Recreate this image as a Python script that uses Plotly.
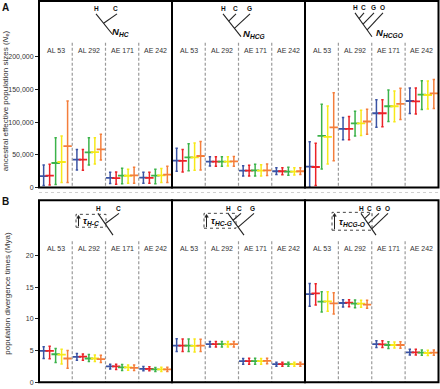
import plotly.graph_objects as go

W, H = 440, 389
groups = ["AL 53", "AL 292", "AE 171", "AE 242"]
colors = ["#3a53a4", "#ec2227", "#3bb34a", "#f7e919", "#f47e3b"]

# ---- Panel A: ancestral effective population sizes (Ne) ----
nhc_mid = [[17300, 18200, 37500, 39000, 63400], [42600, 42600, 53800, 54000, 58300],
           [14700, 14400, 18200, 18000, 18500], [15200, 14700, 18200, 18500, 19800]]
nhc_lo = [[3000, 4000, 4600, 7600, 7600], [26900, 26600, 34500, 36000, 42100],
          [6100, 5000, 5700, 6500, 6500], [6500, 6500, 5700, 7600, 7600]]
nhc_hi = [[34500, 35500, 76000, 78600, 132200], [58300, 58000, 76000, 76000, 81600],
          [23400, 23700, 29500, 28000, 31000], [23400, 23400, 28000, 28900, 32500]]

nhcg_mid = [[41000, 40600, 46200, 46200, 48200], [39500, 39500, 39500, 39500, 40000],
            [25800, 25800, 26200, 25800, 26200], [24900, 24900, 24400, 24400, 24900]]
nhcg_lo = [[24900, 23900, 25800, 26400, 26900], [33000, 32600, 32600, 33000, 32600],
           [17800, 17800, 17800, 17800, 18300], [19800, 19400, 18800, 19300, 19800]]
nhcg_hi = [[59900, 58300, 66900, 67900, 70500], [47100, 47100, 47100, 47100, 47600],
           [33400, 33900, 35500, 35000, 35900], [30400, 30400, 30900, 30400, 30400]]

nhcgo_mid = [[31900, 31400, 79000, 77500, 91800], [89700, 89700, 97900, 97900, 100900],
             [113500, 113500, 124200, 124200, 127700], [132200, 131700, 141900, 141400, 143900]]
nhcgo_lo = [[600, 3000, 28400, 36000, 41000], [73000, 73000, 78600, 79600, 81600],
            [92200, 92700, 100900, 100400, 104000], [113000, 112500, 119100, 120000, 120600]]
nhcgo_hi = [[69900, 67500, 127200, 124600, 145000], [107000, 108500, 116600, 118100, 119600],
            [134300, 134300, 149000, 147400, 151500], [152000, 152000, 163200, 162700, 165200]]

# ---- Panel B: population divergence times (Mya) ----
thc_mid = [[4.94, 4.94, 4.42, 4.36, 3.75], [4.0, 4.05, 3.75, 3.75, 3.64],
           [2.5, 2.5, 2.34, 2.34, 2.29], [2.13, 2.13, 2.03, 2.03, 2.03]]
thc_lo = [[3.75, 3.70, 3.12, 2.9, 2.23], [3.48, 3.48, 3.28, 3.28, 3.12],
          [2.08, 2.03, 1.87, 1.92, 1.87], [1.82, 1.82, 1.72, 1.72, 1.72]]
thc_hi = [[5.62, 5.67, 5.31, 5.2, 5.0], [4.53, 4.48, 4.37, 4.32, 4.26],
          [2.86, 2.86, 2.81, 2.71, 2.71], [2.5, 2.45, 2.34, 2.39, 2.39]]

thcg_mid = [[5.78, 5.78, 5.78, 5.73, 5.78], [6.03, 6.03, 6.03, 5.98, 6.03],
            [3.33, 3.33, 3.33, 3.33, 3.38], [2.86, 2.86, 2.86, 2.86, 2.86]]
thcg_lo = [[4.84, 4.84, 4.84, 4.79, 4.84], [5.56, 5.56, 5.56, 5.56, 5.56],
           [2.86, 2.86, 2.86, 2.86, 2.91], [2.55, 2.55, 2.55, 2.55, 2.55]]
thcg_hi = [[6.87, 6.82, 6.82, 6.82, 6.77], [6.45, 6.45, 6.45, 6.45, 6.45],
           [3.75, 3.80, 3.80, 3.75, 3.80], [3.17, 3.17, 3.17, 3.17, 3.17]]

thcgo_mid = [[13.9, 14.0, 12.7, 12.75, 12.44], [12.5, 12.55, 12.39, 12.39, 12.23],
             [6.03, 5.98, 5.88, 5.88, 5.88], [4.73, 4.73, 4.68, 4.62, 4.68]]
thcgo_lo = [[11.97, 12.19, 11.09, 11.19, 10.78], [11.87, 11.92, 11.76, 11.82, 11.66],
            [5.47, 5.47, 5.31, 5.42, 5.36], [4.31, 4.31, 4.27, 4.21, 4.27]]
thcgo_hi = [[15.57, 15.52, 14.27, 14.27, 14.1], [13.0, 13.0, 12.97, 12.92, 12.92],
            [6.56, 6.56, 6.4, 6.35, 6.4], [5.2, 5.2, 5.1, 5.05, 5.1]]

a_ticks = [0, 50000, 100000, 150000, 200000]
a_ticktext = ["0", "50,000", "100,000", "150,000", "200,000"]
b_ticks = [0, 5, 10, 15, 20]
b_ticktext = ["0", "5", "10", "15", "20"]

panels = [
    (nhc_mid, nhc_lo, nhc_hi), (nhcg_mid, nhcg_lo, nhcg_hi), (nhcgo_mid, nhcgo_lo, nhcgo_hi),
    (thc_mid, thc_lo, thc_hi), (thcg_mid, thcg_lo, thcg_hi), (thcgo_mid, thcgo_lo, thcgo_hi),
]

def X(px):
    return px / W

def Y(py):
    return 1 - py / H

FONT = "Arial, Liberation Sans, sans-serif"
col_px = [(39, 172), (172, 305), (305, 438.5)]
rowA = (1, 189)
rowB = (201.7, 385.3)

fig = go.Figure()
layout = dict(width=W, height=H, margin=dict(l=0, r=0, t=0, b=0),
              paper_bgcolor="white", plot_bgcolor="rgba(0,0,0,0)",
              showlegend=False, font=dict(family=FONT, color="#333"))
shapes = []
annotations = []

for k, (mid, lo, hi) in enumerate(panels):
    idx = k + 1
    sfx = "" if idx == 1 else str(idx)
    c0, c1 = col_px[k % 3]
    r0, r1 = rowA if k < 3 else rowB
    isA = k < 3
    layout["xaxis" + sfx] = dict(domain=[X(c0), X(c1)], range=[0, 4], visible=False,
                                 anchor="y" + sfx, fixedrange=True)
    ya = dict(domain=[Y(r1), Y(r0)], range=[0, 285000] if isA else [0, 28.7],
              anchor="x" + sfx, showgrid=False, zeroline=False, showline=False, fixedrange=True)
    if k % 3 == 0:
        ya.update(tickvals=a_ticks if isA else b_ticks,
                  ticktext=a_ticktext if isA else b_ticktext,
                  ticks="outside", ticklen=3, tickcolor="#222", tickwidth=1,
                  tickfont=dict(size=7, color="#333", family=FONT))
    else:
        ya.update(showticklabels=False, ticks="")
    layout["yaxis" + sfx] = ya

    for s in range(5):
        xs = [g + 0.14 + 0.18 * s for g in range(4)]
        ys = [mid[g][s] for g in range(4)]
        eplus = [hi[g][s] - mid[g][s] for g in range(4)]
        eminus = [mid[g][s] - lo[g][s] for g in range(4)]
        fig.add_trace(go.Scatter(
            x=xs, y=ys, mode="markers", xaxis="x" + sfx, yaxis="y" + sfx,
            marker=dict(symbol="line-ew", size=6, color=colors[s],
                        line=dict(width=1.8, color=colors[s])),
            error_y=dict(type="data", symmetric=False, array=eplus, arrayminus=eminus,
                         color=colors[s], thickness=1.5, width=1.2),
            hoverinfo="skip"))

    ytop = 43 if isA else 243
    for g in (1, 2, 3):
        shapes.append(dict(type="line", xref="x" + sfx, x0=g, x1=g, yref="paper",
                           y0=Y(ytop), y1=Y(r1), line=dict(color="#9a9a9a", width=1.2, dash="3px,2px")))
    ylab = 51 if isA else 250
    for g, name in enumerate(groups):
        annotations.append(dict(xref="x" + sfx, x=g + 0.5, yref="paper", y=Y(ylab),
                                text=name, showarrow=False, font=dict(size=7, color="#333"),
                                xanchor="center", yanchor="middle"))
    shapes.append(dict(type="rect", xref="paper", yref="paper", x0=X(c0), x1=X(c1),
                       y0=Y(r1), y1=Y(r0), line=dict(color="black", width=2)))

shapes.append(dict(type="line", xref="paper", yref="paper", x0=X(39), x1=X(440),
                   y0=Y(194), y1=Y(194), line=dict(color="#d0d0d0", width=1, dash="dot")))

annotations += [
    dict(xref="paper", yref="paper", x=X(5), y=Y(8), text="<b>A</b>", showarrow=False,
         font=dict(size=10, color="#111"), xanchor="center", yanchor="middle"),
    dict(xref="paper", yref="paper", x=X(5), y=Y(203), text="<b>B</b>", showarrow=False,
         font=dict(size=10, color="#111"), xanchor="center", yanchor="middle"),
    dict(xref="paper", yref="paper", x=X(6), y=Y(102),
         text="ancestral effective population sizes (<i>N</i><sub>e</sub>)", showarrow=False,
         textangle=-90, font=dict(size=8, color="#333"), xanchor="center", yanchor="middle"),
    dict(xref="paper", yref="paper", x=X(8), y=Y(296),
         text="population divergence times (Mya)", showarrow=False,
         textangle=-90, font=dict(size=8, color="#333"), xanchor="center", yanchor="middle"),
]

def line(x0, y0, x1, y1, w=1.1, color="#222"):
    shapes.append(dict(type="line", xref="paper", yref="paper", x0=X(x0), y0=Y(y0), x1=X(x1), y1=Y(y1),
                       line=dict(color=color, width=w)))

def txt(x, y, t, size=6.5, anchor="center"):
    annotations.append(dict(xref="paper", yref="paper", x=X(x), y=Y(y), text=t, showarrow=False,
                            font=dict(size=size, color="#111"), xanchor=anchor, yanchor="middle"))

def tree(tips, root, tip_y, label=None, label_xy=None):
    hx, hy = tips[0], tip_y + 5
    rx, ry = root
    slope = (ry - hy) / (rx - hx)
    line(hx, hy, rx, ry)
    n = len(tips)
    for i in range(1, n):
        jx = hx + (rx - hx) * (i / n) * 0.95
        jy = hy + slope * (jx - hx)
        line(tips[i] + 1, tip_y + 5, jx, jy)
    names = ["H", "C", "G", "O"]
    for i, tx in enumerate(tips):
        txt(tx, tip_y, "<b>" + names[i] + "</b>")
    if label:
        txt(label_xy[0], label_xy[1], label, size=9.5, anchor="left")

tree([96, 116], (112, 34), 9, "<b><i>N</i></b><sub><b><i>HC</i></b></sub>", (110, 32))
tree([223, 235, 249], (241, 37), 9, "<b><i>N</i></b><sub><b><i>HCG</i></b></sub>", (241, 34))
tree([355, 363, 373, 382], (372, 37), 8, "<b><i>N</i></b><sub><b><i>HCGO</i></b></sub>", (374, 33))

tree([98, 118], (113, 237), 210)
tree([228, 240, 253], (244, 237), 210)
tree([361, 369, 378, 387], (376, 237), 210)

def taubox(x0, y0, x1, y1, label):
    shapes.append(dict(type="rect", xref="paper", yref="paper", x0=X(x0), x1=X(x1),
                       y0=Y(y1), y1=Y(y0), line=dict(color="#444", width=1, dash="dot")))
    ax = x0 + 2.5
    line(ax, y1 - 1, ax, y0 + 3, w=1)
    shapes.append(dict(type="path", xref="paper", yref="paper",
                       path="M {} {} L {} {} L {} {} Z".format(X(ax - 1.8), Y(y0 + 4), X(ax + 1.8), Y(y0 + 4), X(ax), Y(y0 + 1)),
                       fillcolor="#222", line=dict(color="#222", width=0.5)))
    txt(x0 + 5, (y0 + y1) / 2 + 0.5, label, size=9.5, anchor="left")

taubox(76, 216, 106, 229, "<b><i>τ</i></b><sub><b><i>H-C</i></b></sub>")
taubox(204, 215, 236, 230, "<b><i>τ</i></b><sub><b><i>HC-G</i></b></sub>")
taubox(332, 214, 372, 232, "<b><i>τ</i></b><sub><b><i>HCG-O</i></b></sub>")

layout["shapes"] = shapes
layout["annotations"] = annotations
fig.update_layout(**layout)
fig.write_html("out.html", config={"displayModeBar": False, "staticPlot": True},
               post_script="document.body.style.margin='0';document.body.style.padding='0';"
                           "document.body.style.overflow='hidden';")
